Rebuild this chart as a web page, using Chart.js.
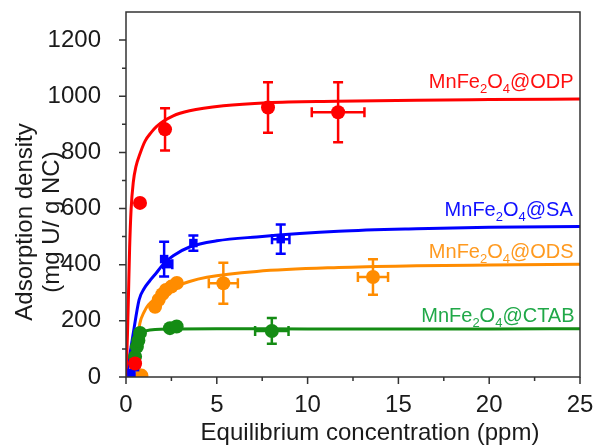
<!DOCTYPE html>
<html><head><meta charset="utf-8">
<script src="https://cdn.jsdelivr.net/npm/chart.js@4.4.1/dist/chart.umd.min.js"></script>
<style>html,body{margin:0;padding:0;background:#fff}#wrap{width:596px;height:447px}</style>
</head><body><div id="wrap"><canvas id="c" width="596" height="447"></canvas></div>
<script>
// ---- tick labels ----
const xTicks = [0, 5, 10, 15, 20, 25];
const xMinor = [2.5, 7.5, 12.5, 17.5, 22.5];
const yTicks = [0, 200, 400, 600, 800, 1000, 1200];
const yMinor = [100, 300, 500, 700, 900, 1100];

// ---- measured points (x = equilibrium conc., y = adsorption density) ----
const odpX    = [0.5, 0.77, 2.15, 7.82, 11.68];
const odpY    = [48, 620, 882, 960, 943];
const odpXErr = [0.25, 0, 0, 0, 1.45];
const odpYErr = [0, 0, 75, 90, 107];

const saX    = [0.3, 0.5, 2.1, 2.3, 3.71, 8.52];
const saY    = [15, 35, 420, 402, 477, 491];
const saXErr = [0, 0, 0, 0.25, 0, 0.48];
const saYErr = [0, 0, 62, 0, 27, 52];

const odsX    = [0.85, 1.6, 1.8, 2.0, 2.2, 2.5, 2.8, 5.36, 13.6];
const odsY    = [5, 250, 275, 295, 310, 322, 335, 334, 356];
const odsXErr = [0, 0, 0, 0, 0, 0, 0, 0.8, 0.83];
const odsYErr = [0, 0, 0, 0, 0, 0, 0, 73, 63];

const ctabX    = [0.5, 0.6, 0.68, 0.77, 2.42, 2.79, 8.03];
const ctabY    = [72, 108, 130, 157, 174, 180, 164];
const ctabXErr = [0, 0, 0, 0, 0, 0, 0.92];
const ctabYErr = [0, 0, 0, 0, 0, 0, 46];

// ---- fitted curves ----
const odpFitX = [0, 0.08, 0.13, 0.2, 0.28, 0.4, 0.55, 0.77, 1.05, 1.4, 1.69, 2.6, 3.5, 5.36, 7.8, 11.6, 16, 20, 25];
const odpFitY = [0, 150, 275, 460, 596, 693, 750, 795, 840, 872, 893, 930, 948, 966, 977, 982, 986, 988, 990];
const saFitX = [0, 0.2, 0.4, 0.72, 1.0, 1.3, 1.6, 2.1, 2.6, 3.5, 5, 7.2, 11.7, 16, 20, 25];
const saFitY = [0, 75, 156, 275, 315, 342, 365, 405, 432, 463, 485, 499, 519, 528, 533, 536];
const odsFitX = [0.35, 0.5, 0.68, 0.77, 1.0, 1.23, 1.69, 2.5, 3.5, 4.45, 7.2, 11.7, 16, 20, 25];
const odsFitY = [0, 80, 157, 193, 232, 257, 282, 315, 340, 355, 376, 390, 396, 399, 402];
const ctabFitX = [0.3, 0.45, 0.59, 0.8, 1.05, 1.6, 2.3, 5, 10, 15, 20, 25];
const ctabFitY = [0, 100, 150, 160, 164, 169, 171, 172, 171, 171, 171, 172];

const seriesNames = ['ODP', 'SA', 'ODS', 'CTAB'];

const pts = (xs, ys) => xs.map((x, i) => ({x, y: ys[i]}));

const C = {
  odp: '#ff0000', sa: '#0000ff', ods: '#ff8c00', ctab: '#148c14',
  odpT: '#ff1010', saT: '#1010ff', odsT: '#ff9a20', ctabT: '#20a848'
};
const FONT = '"Liberation Sans", Arial, sans-serif';

function fitDs(xs, ys, col) {
  return {type: 'line', data: pts(xs, ys), borderColor: col, borderWidth: 3,
    pointRadius: 0, fill: false, cubicInterpolationMode: 'monotone', order: 5};
}
function ptDs(xs, ys, xe, ye, col, style, r) {
  return {type: 'scatter', data: pts(xs, ys), xErr: xe, yErr: ye, backgroundColor: col,
    borderColor: col, pointStyle: style, pointRadius: r, borderWidth: 0, showLine: false, order: 1};
}

const deco = {
  id: 'deco',
  afterDatasetsDraw(chart) {
    const ctx = chart.ctx, xs = chart.scales.x, ys = chart.scales.y;
    ctx.save();
    chart.data.datasets.forEach(ds => {
      if (!ds.xErr) return;
      ctx.strokeStyle = ds.borderColor; ctx.lineWidth = 2.5;
      ds.data.forEach((p, i) => {
        const px = xs.getPixelForValue(p.x), py = ys.getPixelForValue(p.y);
        const ye = ds.yErr[i], xe = ds.xErr[i], cap = 5;
        ctx.beginPath();
        if (ye > 0) {
          const t = ys.getPixelForValue(p.y + ye), b = ys.getPixelForValue(p.y - ye);
          ctx.moveTo(px, t); ctx.lineTo(px, b);
          ctx.moveTo(px - cap, t); ctx.lineTo(px + cap, t);
          ctx.moveTo(px - cap, b); ctx.lineTo(px + cap, b);
        }
        if (xe > 0) {
          const l = xs.getPixelForValue(p.x - xe), r = xs.getPixelForValue(p.x + xe);
          ctx.moveTo(l, py); ctx.lineTo(r, py);
          ctx.moveTo(l, py - cap); ctx.lineTo(l, py + cap);
          ctx.moveTo(r, py - cap); ctx.lineTo(r, py + cap);
        }
        ctx.stroke();
      });
    });
    ctx.restore();
  },
  afterDraw(chart) {
    const ctx = chart.ctx, a = chart.chartArea, xs = chart.scales.x, ys = chart.scales.y;
    ctx.save();
    ctx.strokeStyle = '#333'; ctx.lineWidth = 1.5;
    ctx.strokeRect(a.left, a.top, a.right - a.left, a.bottom - a.top);
    ctx.beginPath();
    xTicks.forEach(v => { const p = xs.getPixelForValue(v); ctx.moveTo(p, a.bottom); ctx.lineTo(p, a.bottom + 7); });
    xMinor.forEach(v => { const p = xs.getPixelForValue(v); ctx.moveTo(p, a.bottom); ctx.lineTo(p, a.bottom + 4); });
    yTicks.forEach(v => { const p = ys.getPixelForValue(v); ctx.moveTo(a.left, p); ctx.lineTo(a.left - 7, p); });
    yMinor.forEach(v => { const p = ys.getPixelForValue(v); ctx.moveTo(a.left, p); ctx.lineTo(a.left - 4, p); });
    ctx.stroke();

    // axis titles
    ctx.fillStyle = '#1a1a1a';
    ctx.font = '24px ' + FONT;
    ctx.textAlign = 'center'; ctx.textBaseline = 'middle';
    ctx.fillText('Equilibrium concentration (ppm)', 370, 433);
    ctx.save();
    ctx.translate(25, 222); ctx.rotate(-Math.PI / 2);
    ctx.fillText('Adsorption density', 0, 0);
    ctx.fillText('(mg U/ g NC)', 0, 27);
    ctx.restore();

    // series labels with subscripts
    const labels = [
      {name: seriesNames[0], col: C.odpT, x: 24.65, y: 1029},
      {name: seriesNames[1], col: C.saT, x: 24.6, y: 572},
      {name: seriesNames[2], col: C.odsT, x: 24.65, y: 424},
      {name: seriesNames[3], col: C.ctabT, x: 24.7, y: 197}
    ];
    ctx.textAlign = 'left'; ctx.textBaseline = 'alphabetic';
    labels.forEach(L => {
      const parts = [['MnFe', 0], ['2', 1], ['O', 0], ['4', 1], ['@' + L.name, 0]];
      let w = 0;
      parts.forEach(([t, s]) => { ctx.font = (s ? '13px ' : '20px ') + FONT; w += ctx.measureText(t).width; });
      let x = xs.getPixelForValue(L.x) - w;
      const y = ys.getPixelForValue(L.y);
      ctx.fillStyle = L.col;
      parts.forEach(([t, s]) => {
        ctx.font = (s ? '13px ' : '20px ') + FONT;
        ctx.fillText(t, x, s ? y + 5 : y);
        x += ctx.measureText(t).width;
      });
    });
    ctx.restore();
  }
};

const noPad = s => { s.paddingTop = 0; s.paddingBottom = 0; s.paddingLeft = 0; s.paddingRight = 0; };

new Chart(document.getElementById('c'), {
  data: {
    datasets: [
      fitDs(odpFitX, odpFitY, C.odp),
      fitDs(saFitX, saFitY, C.sa),
      fitDs(odsFitX, odsFitY, C.ods),
      fitDs(ctabFitX, ctabFitY, C.ctab),
      ptDs(odpX, odpY, odpXErr, odpYErr, C.odp, 'circle', 7),
      ptDs(saX, saY, saXErr, saYErr, C.sa, 'rect', 6),
      ptDs(odsX, odsY, odsXErr, odsYErr, C.ods, 'circle', 7),
      ptDs(ctabX, ctabY, ctabXErr, ctabYErr, C.ctab, 'circle', 7)
    ]
  },
  options: {
    responsive: false, animation: false, devicePixelRatio: 1,
    layout: {padding: {top: 12, right: 16, left: 0, bottom: 0}},
    plugins: {legend: {display: false}, tooltip: {enabled: false}},
    scales: {
      x: {
        type: 'linear', min: 0, max: 25,
        afterBuildTicks: s => { s.ticks = xTicks.map(v => ({value: v})); },
        afterFit: s => { s.height = 70; noPad(s); },
        grid: {display: false}, border: {display: false},
        ticks: {font: {family: FONT, size: 24}, color: '#1a1a1a', padding: 6, maxRotation: 0,
                callback: v => String(v)}
      },
      y: {
        type: 'linear', min: 0, max: 1300,
        afterBuildTicks: s => { s.ticks = yTicks.map(v => ({value: v})); },
        afterFit: s => { s.width = 126; noPad(s); },
        grid: {display: false}, border: {display: false},
        ticks: {font: {family: FONT, size: 24}, color: '#1a1a1a', padding: 17,
                callback: v => String(v)}
      }
    }
  },
  plugins: [deco]
});
</script></body></html>
